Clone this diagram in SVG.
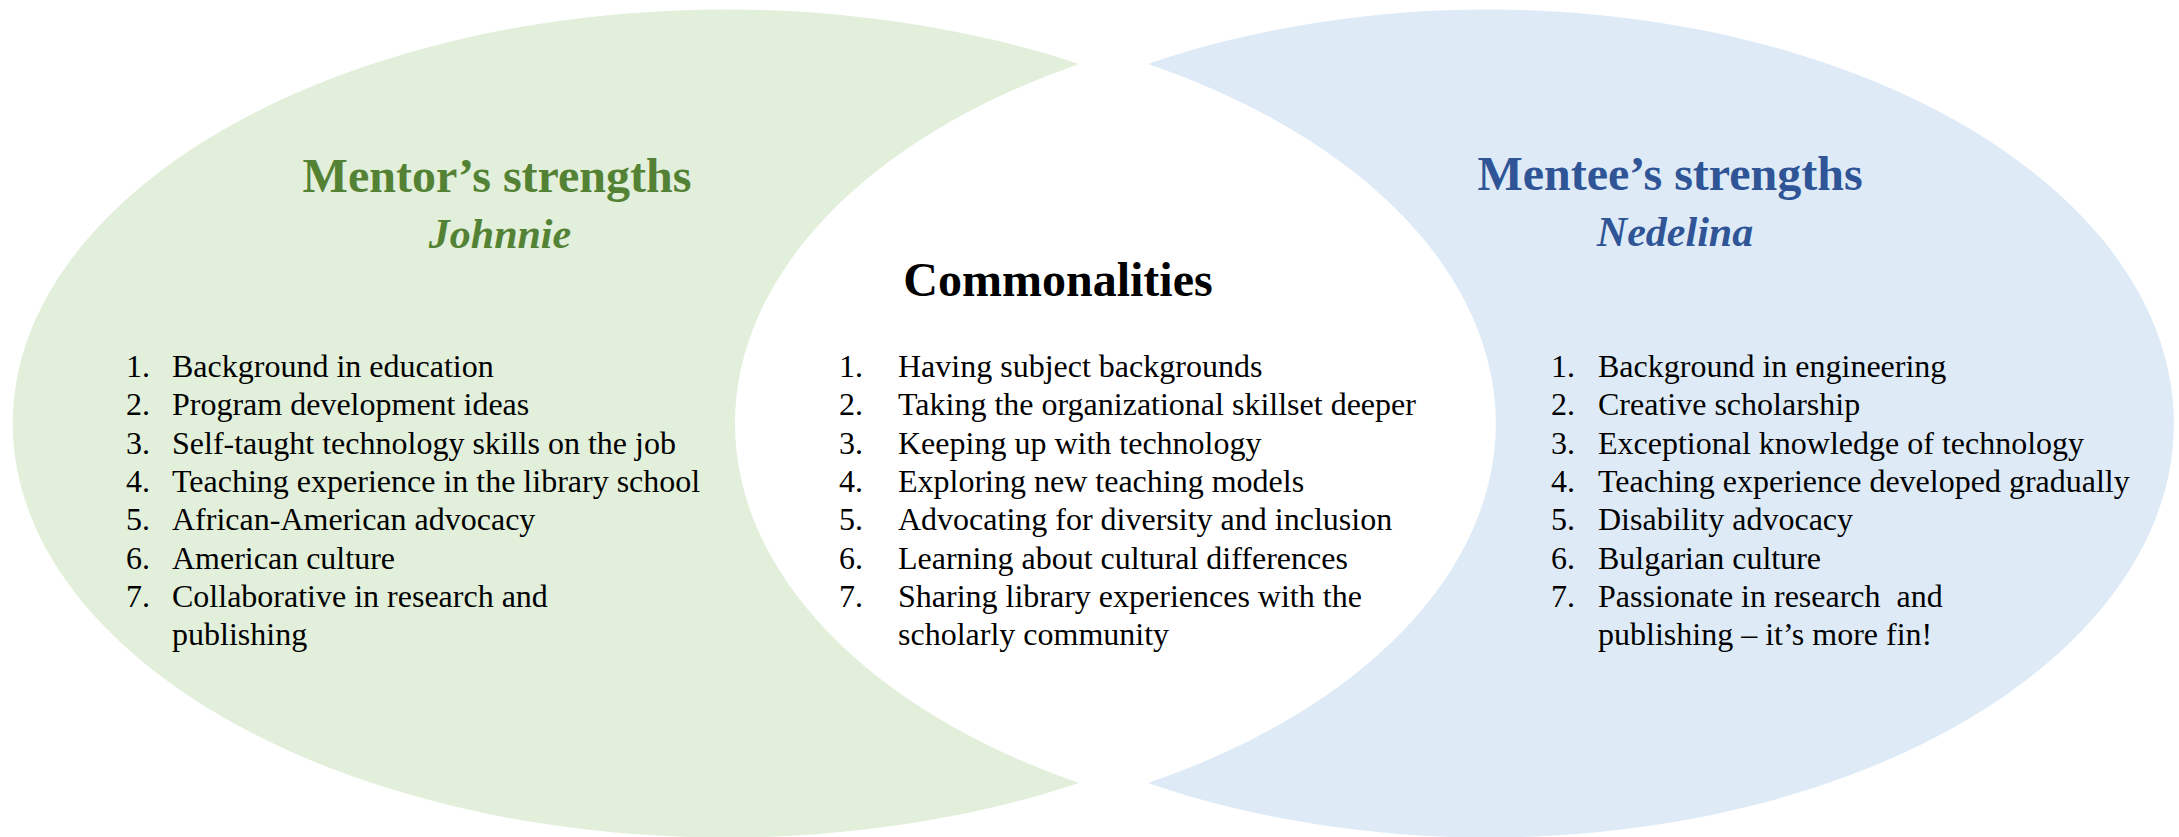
<svg xmlns="http://www.w3.org/2000/svg" width="2179" height="837" viewBox="0 0 2179 837">
<style>
  text { font-family: "Liberation Serif", "Times New Roman", serif; }
  .title { font-size: 48px; font-weight: bold; text-anchor: middle; }
  .name { font-size: 42px; font-weight: bold; font-style: italic; text-anchor: middle; }
  .item { font-size: 32px; fill: #000000; }
  .green { fill: #548235; }
  .blue { fill: #2F5597; }
  .shape-green { fill: #E2EFDA; }
  .shape-blue { fill: #DEEBF7; }
</style>
<rect width="2179" height="837" fill="#FFFFFF"/>
<g id="mentor">
  <path class="shape-green" d="M 1079 64 A 712.8 414 0 1 0 1079 783 A 682.5 414 0 0 1 1079 64 Z"/>
  <text class="title green" x="497" y="192">Mentor’s strengths</text>
  <text class="name green" x="500" y="248">Johnnie</text>
  <g class="item">
    <text x="126" y="377">1.</text><text x="172" y="377">Background in education</text>
    <text x="126" y="415">2.</text><text x="172" y="415">Program development ideas</text>
    <text x="126" y="454">3.</text><text x="172" y="454">Self-taught technology skills on the job</text>
    <text x="126" y="492">4.</text><text x="172" y="492">Teaching experience in the library school</text>
    <text x="126" y="530">5.</text><text x="172" y="530">African-American advocacy</text>
    <text x="126" y="569">6.</text><text x="172" y="569">American culture</text>
    <text x="126" y="607">7.</text><text x="172" y="607">Collaborative in research and</text>
    <text x="172" y="645">publishing</text>
  </g>
</g>
<g id="mentee">
  <path class="shape-blue" d="M 1148 64 A 685.8 414 0 1 1 1148 783 A 690 414 0 0 0 1148 64 Z"/>
  <text class="title blue" x="1670" y="190">Mentee’s strengths</text>
  <text class="name blue" x="1675" y="246">Nedelina</text>
  <g class="item">
    <text x="1551" y="377">1.</text><text x="1598" y="377">Background in engineering</text>
    <text x="1551" y="415">2.</text><text x="1598" y="415">Creative scholarship</text>
    <text x="1551" y="454">3.</text><text x="1598" y="454">Exceptional knowledge of technology</text>
    <text x="1551" y="492">4.</text><text x="1598" y="492">Teaching experience developed gradually</text>
    <text x="1551" y="530">5.</text><text x="1598" y="530">Disability advocacy</text>
    <text x="1551" y="569">6.</text><text x="1598" y="569">Bulgarian culture</text>
    <text x="1551" y="607">7.</text><text x="1598" y="607" xml:space="preserve">Passionate in research  and</text>
    <text x="1598" y="645">publishing – it’s more fin!</text>
  </g>
</g>
<g id="commonalities">
  <text class="title" x="1058" y="296" fill="#000000">Commonalities</text>
  <g class="item">
    <text x="839" y="377">1.</text><text x="898" y="377">Having subject backgrounds</text>
    <text x="839" y="415">2.</text><text x="898" y="415">Taking the organizational skillset deeper</text>
    <text x="839" y="454">3.</text><text x="898" y="454">Keeping up with technology</text>
    <text x="839" y="492">4.</text><text x="898" y="492">Exploring new teaching models</text>
    <text x="839" y="530">5.</text><text x="898" y="530">Advocating for diversity and inclusion</text>
    <text x="839" y="569">6.</text><text x="898" y="569">Learning about cultural differences</text>
    <text x="839" y="607">7.</text><text x="898" y="607">Sharing library experiences with the</text>
    <text x="898" y="645">scholarly community</text>
  </g>
</g>
<g id="connectors"></g>
</svg>
